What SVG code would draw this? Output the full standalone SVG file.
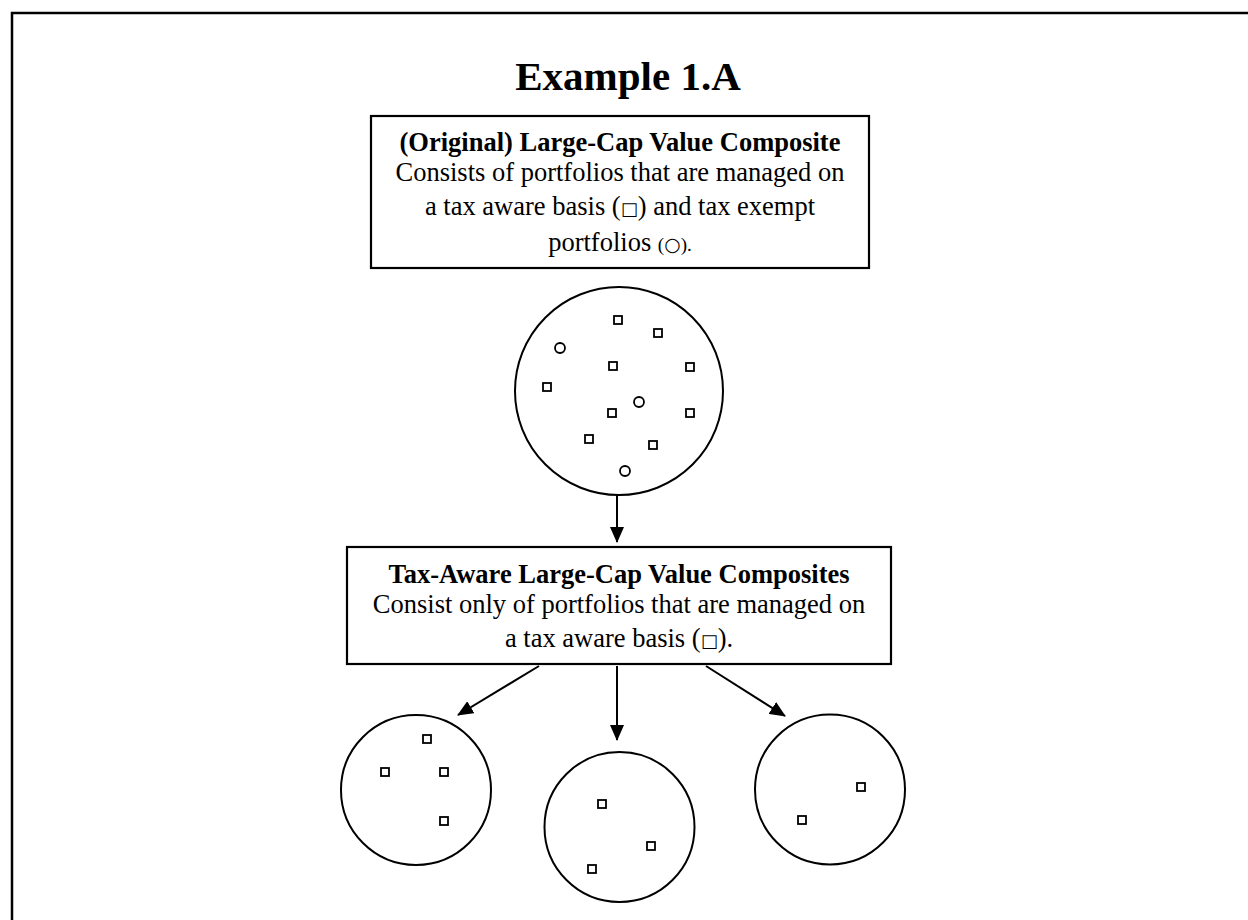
<svg xmlns="http://www.w3.org/2000/svg" width="1248" height="920" viewBox="0 0 1248 920">
  <defs>
    <marker id="arr" markerWidth="16" markerHeight="14" refX="15" refY="7" orient="auto" markerUnits="userSpaceOnUse">
      <path d="M0,0 L16,7 L0,14 Z" fill="#000"/>
    </marker>
  </defs>
  <style>
    .t{font-family:"Liberation Serif","Times New Roman",serif;fill:#000;text-anchor:middle;font-size:26.5px}
    .b{font-weight:bold}
    .sym{font-family:"DejaVu Sans",sans-serif}
    .box{fill:#fff;stroke:#000;stroke-width:2.2}
    .pool{fill:#fff;stroke:#000;stroke-width:2}
    .sq{fill:none;stroke:#000;stroke-width:1.8}
    .dot{fill:none;stroke:#000;stroke-width:1.8}
    .con{stroke:#000;stroke-width:2;fill:none}
  </style>
  <rect x="0" y="0" width="1248" height="920" fill="#fff"/>
  <path d="M12,930 L12,13 L1260,13" fill="none" stroke="#000" stroke-width="2.5"/>
  <text class="t b" x="628" y="90" style="font-size:41px">Example 1.A</text>

  <g id="box-original">
    <rect class="box" x="371" y="116" width="498" height="152"/>
    <text class="t b" x="620" y="151">(Original) Large-Cap Value Composite</text>
    <text class="t" x="620" y="181">Consists of portfolios that are managed on</text>
    <text class="t" x="620" y="215">a tax aware basis (<tspan class="sym" font-size="18">□</tspan>) and tax exempt</text>
    <text class="t" x="620" y="251">portfolios <tspan font-size="19">(<tspan class="sym">○</tspan>).</tspan></text>
  </g>

  <g id="pool-original">
    <circle class="pool" cx="619" cy="391" r="104"/>
    <rect class="sq" x="614" y="316" width="8" height="8"/>
    <rect class="sq" x="654" y="329" width="8" height="8"/>
    <circle class="dot" cx="560" cy="348" r="5"/>
    <rect class="sq" x="609" y="362" width="8" height="8"/>
    <rect class="sq" x="686" y="363" width="8" height="8"/>
    <rect class="sq" x="543" y="383" width="8" height="8"/>
    <circle class="dot" cx="639" cy="402" r="5"/>
    <rect class="sq" x="608" y="409" width="8" height="8"/>
    <rect class="sq" x="686" y="409" width="8" height="8"/>
    <rect class="sq" x="585" y="435" width="8" height="8"/>
    <rect class="sq" x="649" y="441" width="8" height="8"/>
    <circle class="dot" cx="625" cy="471" r="5"/>
  </g>

  <g id="box-taxaware">
    <rect class="box" x="347" y="547" width="544" height="117"/>
    <text class="t b" x="619" y="583">Tax-Aware Large-Cap Value Composites</text>
    <text class="t" x="619" y="613">Consist only of portfolios that are managed on</text>
    <text class="t" x="619" y="647">a tax aware basis (<tspan class="sym" font-size="18">□</tspan>).</text>
  </g>

  <g id="pool-left">
    <circle class="pool" cx="416" cy="790" r="75"/>
    <rect class="sq" x="423" y="735" width="8" height="8"/>
    <rect class="sq" x="381" y="768" width="8" height="8"/>
    <rect class="sq" x="440" y="768" width="8" height="8"/>
    <rect class="sq" x="440" y="817" width="8" height="8"/>
  </g>

  <g id="pool-middle">
    <circle class="pool" cx="619.5" cy="827" r="75"/>
    <rect class="sq" x="598" y="800" width="8" height="8"/>
    <rect class="sq" x="647" y="842" width="8" height="8"/>
    <rect class="sq" x="588" y="865" width="8" height="8"/>
  </g>

  <g id="pool-right">
    <circle class="pool" cx="830" cy="789.5" r="75"/>
    <rect class="sq" x="857" y="783" width="8" height="8"/>
    <rect class="sq" x="798" y="816" width="8" height="8"/>
  </g>

  <g id="connectors">
    <line class="con" x1="617" y1="495" x2="617" y2="542" marker-end="url(#arr)"/>
    <line class="con" x1="539" y1="666" x2="458" y2="715" marker-end="url(#arr)"/>
    <line class="con" x1="617" y1="666" x2="617" y2="740" marker-end="url(#arr)"/>
    <line class="con" x1="706" y1="666" x2="785" y2="716" marker-end="url(#arr)"/>
  </g>
</svg>
